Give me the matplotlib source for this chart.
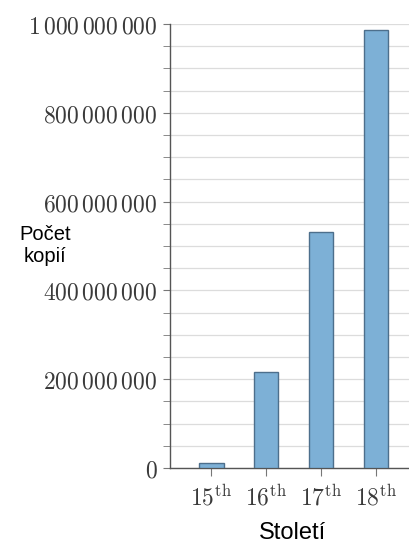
import matplotlib
matplotlib.use('Agg')
import matplotlib.pyplot as plt
from matplotlib.ticker import MultipleLocator

plt.rcParams['mathtext.fontset'] = 'cm'

centuries = ['15', '16', '17', '18']
copies = [11000000, 216000000, 531000000, 986000000]
y_ticks = [0, 200000000, 400000000, 600000000, 800000000, 1000000000]


def fmt(v):
    s = '{:,}'.format(v).replace(',', r'\,')
    return '$' + s + '$'


fig = plt.figure(figsize=(4.09, 5.46), dpi=100)
ax = fig.add_axes([170 / 409, (546 - 468) / 546, 240 / 409, 444 / 546])

x = list(range(len(centuries)))
ax.bar(x, copies, width=0.45, color='#7db0d6', edgecolor='#4d6f8c', linewidth=1.0, zorder=3)

ax.set_xlim(-0.75, 3.62)
ax.set_ylim(0, 1000000000)
ax.set_xticks(x)
ax.set_xticklabels([r'$%s^{\mathrm{th}}$' % c for c in centuries], fontsize=17)
ax.set_yticks(y_ticks)
ax.set_yticklabels([fmt(v) for v in y_ticks], fontsize=17)
ax.yaxis.set_minor_locator(MultipleLocator(50000000))

ax.grid(True, which='both', axis='y', color='#dcdcdc', linewidth=0.9, zorder=0)
for s in ['top', 'right']:
    ax.spines[s].set_visible(False)
for s in ['left', 'bottom']:
    ax.spines[s].set_color('#555555')
    ax.spines[s].set_linewidth(1.0)
ax.tick_params(axis='y', which='both', length=5, color='#777777', labelcolor='#3a3a3a', pad=4)
ax.tick_params(axis='x', length=6, color='#777777', labelcolor='#3a3a3a', pad=6)

fig.text(45 / 409, 1 - 245 / 546, 'Počet\nkopií', ha='center', va='center',
         fontsize=14.5, family='Liberation Sans', linespacing=1.2)
fig.text(292 / 409, 1 - 533 / 546, 'Století', ha='center', va='center',
         fontsize=17, family='Liberation Sans')

fig.savefig('out.png', dpi=100)
